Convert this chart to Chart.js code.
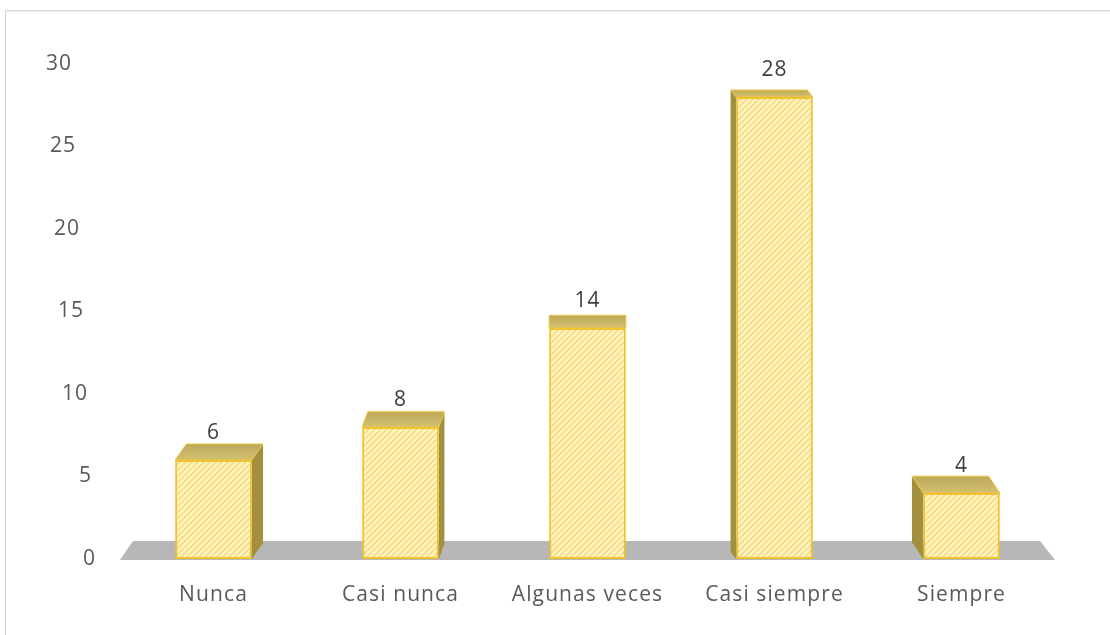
<!DOCTYPE html>
<html lang="es">
<head>
  <meta charset="UTF-8">
  <title>Frecuencia</title>
  <script src="https://cdn.jsdelivr.net/npm/chart.js"></script>
  <style>
    body {
      margin: 0;
      background: #fff;
      overflow: hidden;
    }
    #frame {
      position: absolute;
      left: 5px;
      top: 10px;
      width: 1120px;
      height: 640px;
      border: 1px solid #d4d4d4;
      box-shadow: inset 0 1px 2px rgba(0, 0, 0, 0.06);
    }
    #wrap {
      position: absolute;
      left: 0;
      top: 0;
      width: 1110px;
      height: 635px;
    }
  </style>
</head>
<body>
  <div id="frame"></div>
  <div id="wrap"><canvas id="chart"></canvas></div>

  <script>
    // datos del grafico
    const categorias = ['Nunca', 'Casi nunca', 'Algunas veces', 'Casi siempre', 'Siempre'];
    const valores = [6, 8, 14, 28, 4];
    const ticksY = [0, 5, 10, 15, 20, 25, 30];

    const FONT = '"Open Sans", "Liberation Sans", sans-serif';

    // trama diagonal de la cara frontal
    function hatch() {
      const c = document.createElement('canvas');
      c.width = 6;
      c.height = 6;
      const g = c.getContext('2d');
      g.fillStyle = '#fff3c2';
      g.fillRect(0, 0, 6, 6);
      g.strokeStyle = '#f4d870';
      g.lineWidth = 1.4;
      g.beginPath();
      g.moveTo(-1, 7); g.lineTo(7, -1);
      g.moveTo(-4, 4); g.lineTo(4, -4);
      g.moveTo(2, 10); g.lineTo(10, 2);
      g.stroke();
      return g.createPattern(c, 'repeat');
    }

    const ctx = document.getElementById('chart').getContext('2d');

    // suelo gris, caras 3D, rotulos
    const escena = {
      id: 'escena',
      beforeDatasetsDraw(chart) {
        const { ctx, chartArea: a } = chart;
        const y0 = chart.scales.y.getPixelForValue(0);
        ctx.save();
        ctx.fillStyle = '#b7b7b7';
        ctx.beginPath();
        ctx.moveTo(a.left + 13, y0 - 18);
        ctx.lineTo(a.right - 15, y0 - 18);
        ctx.lineTo(a.right, y0 + 1);
        ctx.lineTo(a.left, y0 + 1);
        ctx.closePath();
        ctx.fill();
        ctx.restore();
      },
      afterDatasetsDraw(chart) {
        const { ctx, chartArea: a } = chart;
        const meta = chart.getDatasetMeta(0);
        const mid = (a.left + a.right) / 2;
        ctx.save();
        meta.data.forEach((bar, i) => {
          const half = bar.width / 2;
          const l = bar.x - half, r = bar.x + half;
          const t = bar.y, b = bar.base;
          const dx = (mid - bar.x) * 0.03;
          const dy = 4.5 + 0.025 * t;

          // cara lateral
          const sx = dx > 0 ? r : l;
          if (Math.abs(dx) > 0.5) {
            ctx.fillStyle = '#a2903e';
            ctx.beginPath();
            ctx.moveTo(sx, t);
            ctx.lineTo(sx + dx, t - dy);
            ctx.lineTo(sx + dx, b - dy);
            ctx.lineTo(sx, b);
            ctx.closePath();
            ctx.fill();
          }
          // cara superior
          const grad = ctx.createLinearGradient(0, t - dy, 0, t);
          grad.addColorStop(0, '#bca85a');
          grad.addColorStop(1, '#d4c070');
          ctx.fillStyle = grad;
          ctx.strokeStyle = '#eec53a';
          ctx.lineWidth = 1;
          ctx.beginPath();
          ctx.moveTo(l, t);
          ctx.lineTo(l + dx, t - dy);
          ctx.lineTo(r + dx, t - dy);
          ctx.lineTo(r, t);
          ctx.closePath();
          ctx.fill();
          ctx.stroke();

          // etiqueta de valor
          ctx.fillStyle = '#404040';
          ctx.font = '21px ' + FONT;
          ctx.letterSpacing = '1px';
          ctx.textAlign = 'center';
          ctx.textBaseline = 'middle';
          ctx.fillText(String(valores[i]), bar.x, t - 27);
        });

        // rotulos del eje de categorias
        const xs = chart.scales.x;
        ctx.fillStyle = '#595959';
        ctx.font = '21px ' + FONT;
        ctx.letterSpacing = '1.1px';
        ctx.textAlign = 'center';
        categorias.forEach((c, i) => {
          ctx.fillText(c, xs.getPixelForValue(i), 595);
        });

        // rotulos del eje de valores (pared inclinada)
        const ys = chart.scales.y;
        ctx.font = '21px ' + FONT;
        ctx.letterSpacing = '1px';
        ctx.textAlign = 'right';
        ticksY.forEach(v => {
          ctx.fillText(String(v), 96 - v * 0.8, ys.getPixelForValue(v));
        });
        ctx.restore();
      }
    };

    new Chart(ctx, {
      type: 'bar',
      data: {
        labels: categorias,
        datasets: [{
          data: valores,
          backgroundColor: hatch(),
          borderColor: '#efc22e',
          borderWidth: 2,
          borderSkipped: false,
          barPercentage: 0.41,
          categoryPercentage: 1
        }]
      },
      options: {
        responsive: true,
        maintainAspectRatio: false,
        animation: false,
        layout: {
          padding: { left: 120, right: 55, top: 64, bottom: 76 }
        },
        scales: {
          x: { display: false },
          y: { display: false, min: 0, max: 30 }
        },
        plugins: {
          legend: { display: false },
          tooltip: { enabled: false }
        }
      },
      plugins: [escena]
    });
  </script>
</body>
</html>
